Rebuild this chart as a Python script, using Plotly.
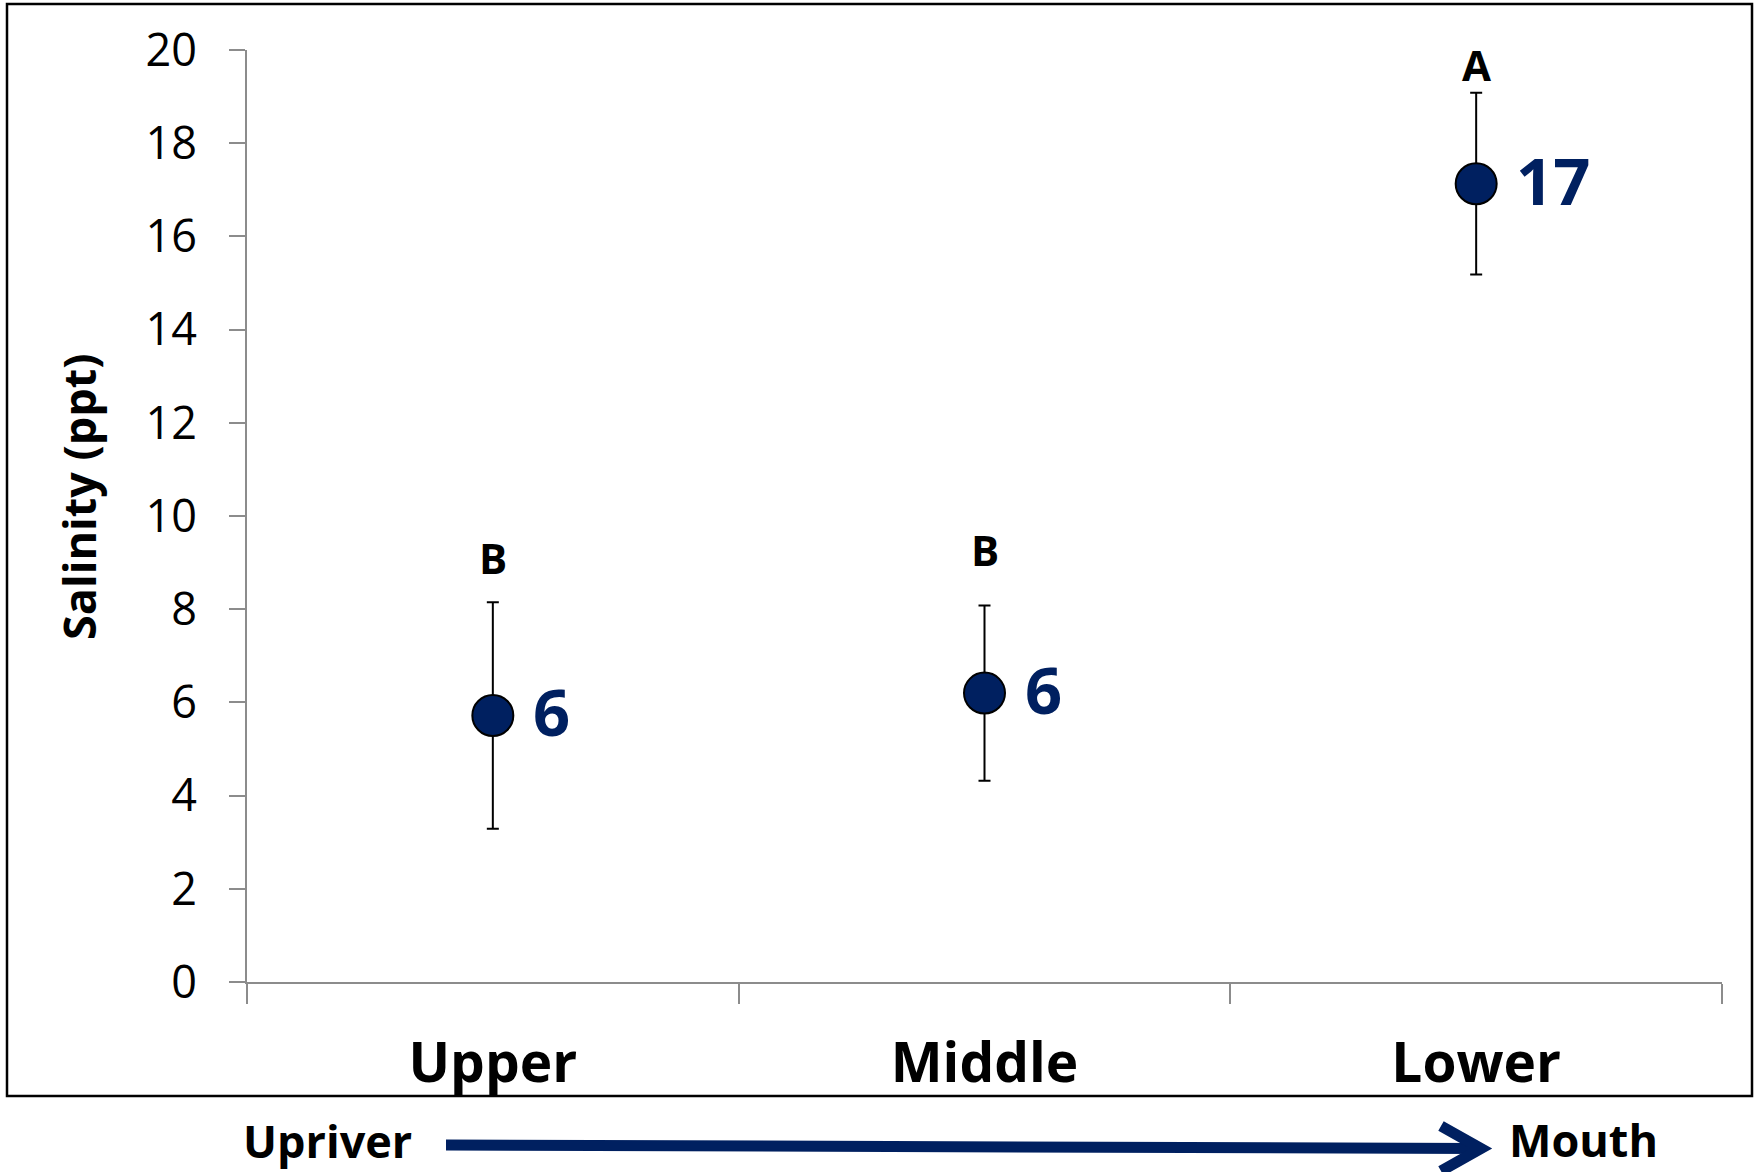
import plotly.graph_objects as go

# ---- data ----
sites = ["Upper", "Middle", "Lower"]
salinity_mean = [5.72, 6.2, 17.13]
salinity_err = [2.43, 1.88, 1.95]
value_labels = ["6", "6", "17"]
group_letters = ["B", "B", "A"]
letter_y = [9.12, 9.29, 19.68]
y_ticks = [0, 2, 4, 6, 8, 10, 12, 14, 16, 18, 20]

NAVY = "#002060"
GRAY = "#8c8c8c"
FONT = "Open Sans"

W, H = 1761, 1172
ML, MT = 247, 50
MR = W - 1722
MB = H - 982
PW = W - ML - MR
PH = H - MT - MB


def px(x):
    # pixel x -> paper fraction
    return (x - ML) / PW


def py(y):
    # pixel y -> paper fraction
    return (H - MB - y) / PH


fig = go.Figure()
fig.add_trace(go.Scatter(
    x=sites, y=salinity_mean, mode="markers",
    marker=dict(size=41, color=NAVY, line=dict(color="black", width=2)),
    error_y=dict(type="data", array=salinity_err, visible=True,
                 color="black", thickness=2, width=6),
    showlegend=False, cliponaxis=False,
))

annotations = []
for s, m, v in zip(sites, salinity_mean, value_labels):
    annotations.append(dict(x=s, y=m, xref="x", yref="y", text=v, showarrow=False,
                            xanchor="left", yanchor="middle", xshift=38, yshift=4,
                            font=dict(family=FONT, size=65, color=NAVY, weight="bold")))
for s, l, ly in zip(sites, group_letters, letter_y):
    annotations.append(dict(x=s, y=ly, xref="x", yref="y", text=l, showarrow=False,
                            font=dict(family=FONT, size=42, color="black", weight="bold"),
                            xanchor="center", yanchor="middle"))

annotations.append(dict(x=px(78), y=py(497), xref="paper", yref="paper", text="Salinity (ppt)",
                        showarrow=False, textangle=-90, xanchor="center", yanchor="middle",
                        font=dict(family=FONT, size=45, color="black", weight="bold")))
annotations.append(dict(x=px(327), y=py(1140), xref="paper", yref="paper", text="Upriver",
                        showarrow=False, xanchor="center", yanchor="middle",
                        font=dict(family=FONT, size=45, color="black", weight="bold")))
annotations.append(dict(x=px(1583), y=py(1171), xref="paper", yref="paper", text="Mouth",
                        showarrow=False, xanchor="center", yanchor="bottom", borderpad=0,
                        font=dict(family=FONT, size=45, color="black", weight="bold")))

shapes = [
    # outer chart border
    dict(type="rect", xref="paper", yref="paper",
         x0=px(7), x1=px(1752), y0=py(1096), y1=py(4),
         line=dict(color="black", width=2.5), fillcolor="rgba(0,0,0,0)", layer="below"),
    # arrow shaft
    dict(type="line", xref="paper", yref="paper",
         x0=px(446), y0=py(1145), x1=px(1478), y1=py(1148.5),
         line=dict(color=NAVY, width=11)),
    # arrow head (open chevron)
    dict(type="path", xref="paper", yref="paper",
         path=f"M {px(1441)} {py(1126)} L {px(1481)} {py(1148.5)} L {px(1441)} {py(1171)}",
         line=dict(color=NAVY, width=11)),
]

fig.update_layout(
    width=W, height=H,
    margin=dict(l=ML, r=MR, t=MT, b=MB),
    paper_bgcolor="white", plot_bgcolor="white",
    font=dict(family=FONT, color="black"),
    annotations=annotations, shapes=shapes,
    xaxis=dict(type="category", categoryorder="array", categoryarray=sites,
               range=[-0.5, 2.5], tickson="boundaries",
               showline=True, linecolor=GRAY, linewidth=2,
               ticks="outside", ticklen=20, tickwidth=2, tickcolor=GRAY,
               showgrid=False, zeroline=False,
               tickfont=dict(family=FONT, size=55, color="black", weight="bold"),
               ticklabelstandoff=32),
    yaxis=dict(range=[0, 20], tickvals=y_ticks,
               showline=True, linecolor=GRAY, linewidth=2,
               ticks="outside", ticklen=16, tickwidth=2, tickcolor=GRAY,
               showgrid=False, zeroline=False,
               tickfont=dict(family=FONT, size=45, color="black"),
               ticklabelstandoff=23),
)

fig.write_html("out.html", config={"displayModeBar": False},
               post_script="document.body.style.margin='0';document.body.style.overflow='hidden';")
